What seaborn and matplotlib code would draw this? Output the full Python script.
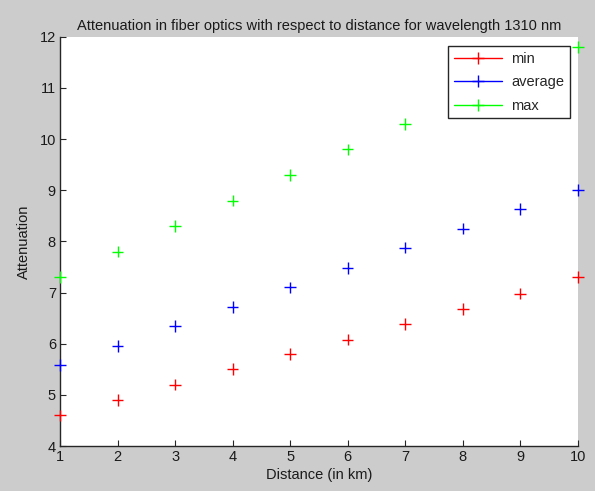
import matplotlib
matplotlib.use("Agg")
import matplotlib.pyplot as plt
import seaborn as sns
import pandas as pd
from matplotlib.lines import Line2D

distance = [1, 2, 3, 4, 5, 6, 7, 8, 9, 10]
att_min = [4.6, 4.9, 5.2, 5.5, 5.8, 6.08, 6.38, 6.68, 6.98, 7.3]
att_avg = [5.58, 5.96, 6.35, 6.72, 7.1, 7.48, 7.88, 8.25, 8.63, 9.0]
att_max = [7.3, 7.8, 8.3, 8.8, 9.3, 9.8, 10.3, 10.8, 11.3, 11.8]
series = ["min", "average", "max"]
colors = {"min": "#ff0000", "average": "#0000ff", "max": "#00ff00"}

df = pd.concat([
    pd.DataFrame({"Distance": distance, "Attenuation": vals, "series": name})
    for name, vals in zip(series, [att_min, att_avg, att_max])
])

sns.set_style("white")
plt.rcParams["font.family"] = ["Arial", "Liberation Sans", "DejaVu Sans"]

fig = plt.figure(figsize=(5.95, 4.91), dpi=100, facecolor="#cccccc")
ax = fig.add_axes([0.101, 0.0916, 0.870, 0.8334])
ax.set_facecolor("white")

sns.scatterplot(data=df, x="Distance", y="Attenuation", hue="series",
                palette=colors, marker="+", s=70, linewidth=1.0,
                ax=ax, legend=False, clip_on=False, zorder=3)

ax.set_xlim(1, 10)
ax.set_ylim(4, 12)
ax.set_xticks(range(1, 11))
ax.set_yticks(range(4, 13))
for s in ["top", "right"]:
    ax.spines[s].set_visible(False)
for s in ["left", "bottom"]:
    ax.spines[s].set_color("#262626")
    ax.spines[s].set_linewidth(1.0)
ax.tick_params(direction="in", length=4, width=0.8, colors="#262626",
               labelsize=10.5, labelcolor="#1a1a1a", pad=3,
               left=True, bottom=True)

ax.set_title("Attenuation in fiber optics with respect to distance for wavelength 1310 nm",
             fontsize=10.5, pad=5, color="#1a1a1a")
ax.set_xlabel("Distance (in km)", fontsize=10.5, labelpad=3, color="#1a1a1a")
ax.set_ylabel("Attenuation", fontsize=10.5, labelpad=6, color="#1a1a1a")

handles = [Line2D([0], [0], color=colors[n], marker="+", markersize=9,
                  linewidth=1.0, markeredgewidth=1.0) for n in series]
leg = ax.legend(handles, series, loc="upper right", bbox_to_anchor=(0.985, 0.978),
                frameon=True, fancybox=False, edgecolor="#262626", framealpha=1.0,
                fontsize=10.5, handlelength=3.3, borderpad=0.4,
                labelspacing=0.65, handletextpad=0.6, borderaxespad=0.0)
leg.get_frame().set_linewidth(1.0)
leg.set_zorder(10)

fig.savefig("out.png", dpi=100, facecolor=fig.get_facecolor())
